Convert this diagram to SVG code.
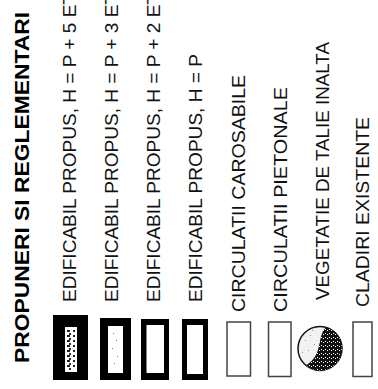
<svg xmlns="http://www.w3.org/2000/svg" width="378" height="389" viewBox="0 0 378 389">
  <style>
    .t { font-family: "Liberation Sans", Arial, sans-serif; font-size: 18px; fill: #111; }
    .title { font-family: "Liberation Sans", Arial, sans-serif; font-size: 20.5px; font-weight: bold; fill: #000; }
    .thin { fill: #fff; stroke: #444; stroke-width: 1.5; }
  </style>
  <defs>
    <pattern id="stipple" width="4" height="4" patternUnits="userSpaceOnUse">
      <rect width="4" height="4" fill="#111"/>
      <rect x="1" y="1" width="1" height="1" fill="#fff"/>
      <rect x="3" y="2" width="1" height="1" fill="#fff"/>
    </pattern>
    <pattern id="dense" width="6" height="5" patternUnits="userSpaceOnUse">
      <rect width="6" height="5" fill="#fff"/>
      <rect x="1" y="0" width="3" height="2" fill="#222"/>
      <rect x="3" y="3" width="2" height="2" fill="#333"/>
    </pattern>
  </defs>
  <rect width="378" height="389" fill="#fff"/>

  <g id="title">
    <text class="title" transform="translate(28.5,363) rotate(-90)" textLength="351" lengthAdjust="spacingAndGlyphs">PROPUNERI SI REGLEMENTARI</text>
  </g>

  <g id="item-p5">
    <rect x="53" y="315" width="35" height="65" fill="#000"/>
    <rect x="65" y="327" width="12" height="45" fill="#fff"/>
    <rect x="67" y="330" width="8" height="40" fill="url(#dense)"/>
    <text class="t" transform="translate(76,302) rotate(-90)" textLength="309" lengthAdjust="spacingAndGlyphs">EDIFICABIL PROPUS, H = P + 5 ET</text>
  </g>

  <g id="item-p3">
    <rect x="100" y="318" width="31" height="62" fill="#000"/>
    <rect x="108" y="326" width="15" height="47" fill="#fff"/>
    <g fill="#777">
      <rect x="113" y="333" width="1" height="1"/><rect x="116" y="340" width="1" height="1"/>
      <rect x="112" y="348" width="1" height="1"/><rect x="117" y="356" width="1" height="1"/>
      <rect x="114" y="363" width="1" height="1"/>
    </g>
    <text class="t" transform="translate(118,302) rotate(-90)" textLength="309" lengthAdjust="spacingAndGlyphs">EDIFICABIL PROPUS, H = P + 3 ET</text>
  </g>

  <g id="item-p2">
    <rect x="141" y="319" width="28" height="61" fill="#000"/>
    <rect x="146.5" y="325" width="17.5" height="48" fill="#fff"/>
    <text class="t" transform="translate(160,302) rotate(-90)" textLength="309" lengthAdjust="spacingAndGlyphs">EDIFICABIL PROPUS, H = P + 2 ET</text>
  </g>

  <g id="item-p">
    <rect x="182" y="319" width="26" height="61" fill="#000"/>
    <rect x="187" y="325" width="16" height="49" fill="#fff"/>
    <text class="t" transform="translate(202,302) rotate(-90)" textLength="248" lengthAdjust="spacingAndGlyphs">EDIFICABIL PROPUS, H = P</text>
  </g>

  <g id="item-carosabile">
    <rect class="thin" x="227" y="322" width="23.5" height="54"/>
    <text class="t" transform="translate(245,312) rotate(-90)" textLength="237" lengthAdjust="spacingAndGlyphs">CIRCULATII CAROSABILE</text>
  </g>

  <g id="item-pietonale">
    <rect class="thin" x="268.5" y="322" width="22.5" height="54.5"/>
    <text class="t" transform="translate(287,312) rotate(-90)" textLength="225" lengthAdjust="spacingAndGlyphs">CIRCULATII PIETONALE</text>
  </g>

  <g id="item-vegetatie">
    <circle cx="320" cy="348.5" r="22" fill="#f2f2f2" stroke="#111" stroke-width="1.5"/>
    <path d="M326 327.3 C316 338 324 354 306 365.5 A22 22 0 1 0 326 327.3 Z" fill="url(#stipple)"/>
    <g fill="#999">
      <rect x="305" y="340" width="1" height="1"/><rect x="310" y="335" width="1" height="1"/>
      <rect x="308" y="350" width="1" height="1"/><rect x="314" y="344" width="1" height="1"/>
      <rect x="302" y="352" width="1" height="1"/><rect x="312" y="330" width="1" height="1"/>
    </g>
    <text class="t" transform="translate(329,300) rotate(-90)" textLength="258" lengthAdjust="spacingAndGlyphs">VEGETATIE DE TALIE INALTA</text>
  </g>

  <g id="item-cladiri">
    <rect class="thin" x="353" y="322" width="19" height="54.5"/>
    <text class="t" transform="translate(369,307) rotate(-90)" textLength="190" lengthAdjust="spacingAndGlyphs">CLADIRI EXISTENTE</text>
  </g>
</svg>
